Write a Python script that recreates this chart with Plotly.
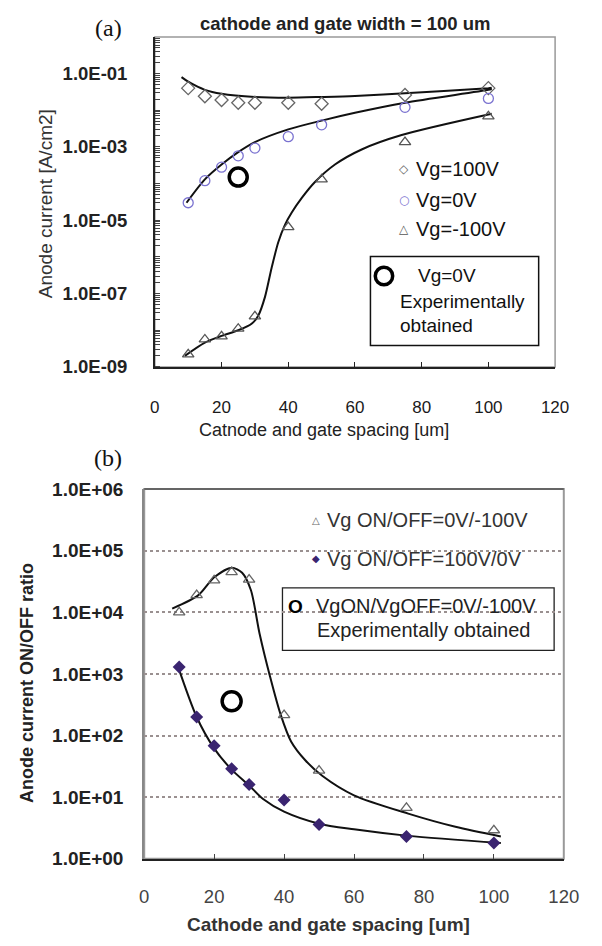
import plotly.graph_objects as go

# ---------------- data: panel (a) ----------------
spacing = [10, 15, 20, 25, 30, 40, 50, 75, 100]
cur_vg100 = [4.0e-2, 2.4e-2, 1.9e-2, 1.6e-2, 1.6e-2, 1.6e-2, 1.5e-2, 2.6e-2, 4.0e-2]
cur_vg0 = [3.0e-5, 1.2e-4, 2.8e-4, 5.7e-4, 9.3e-4, 1.9e-3, 4.0e-3, 1.2e-2, 2.1e-2]
cur_vgm100 = [2.2e-9, 5.6e-9, 6.8e-9, 1.1e-8, 2.4e-8, 6.5e-6, 1.3e-4, 1.35e-3, 6.8e-3]

fit100_x = [8, 10, 15, 20, 30, 40, 50, 60, 75, 100, 101]
fit100_y = [8.0e-2, 6.0e-2, 3.6e-2, 2.8e-2, 2.3e-2, 2.2e-2, 2.3e-2, 2.45e-2, 2.9e-2, 4.0e-2, 4.1e-2]
fit0_x = [9.5, 15, 20, 25, 30, 40, 50, 60, 75, 100, 101]
fit0_y = [3.0e-5, 1.3e-4, 3.3e-4, 7.2e-4, 1.35e-3, 3.0e-3, 5.2e-3, 8.5e-3, 1.6e-2, 3.6e-2, 3.8e-2]
fitm100_x = [9, 15, 20, 25, 29, 31, 33, 35, 37, 39, 41, 44, 48, 54, 62, 74, 101]
fitm100_y = [2.0e-9, 4.6e-9, 7.0e-9, 1.0e-8, 1.5e-8, 2.5e-8, 8.0e-8, 5.0e-7, 2.5e-6, 7.5e-6,
             1.6e-5, 4.0e-5, 1.1e-4, 3.3e-4, 8.5e-4, 2.1e-3, 8.0e-3]
exp_a_x = [25]
exp_a_y = [1.5e-4]

# ---------------- data: panel (b) ----------------
ratio_0_m100 = [1.0e4, 1.9e4, 3.3e4, 4.5e4, 3.4e4, 215, 27, 6.7, 2.9]
ratio_100_0 = [1300, 200, 68, 29, 16, 9, 3.6, 2.3, 1.8]

fitr1_x = [8, 15.5, 20, 25, 28, 30.5, 33, 36, 39, 42, 46, 51, 60, 75.5, 89, 102]
fitr1_y = [1.15e4, 1.9e4, 3.7e4, 5.3e4, 4.4e4, 2.3e4, 4.5e3, 900, 220, 80, 40, 22, 10.7, 5.4, 3.3, 2.3]
fitr2_x = [9.5, 15, 20, 25, 30, 34, 40, 50, 60, 75.5, 102]
fitr2_y = [1400, 200, 62, 28, 15.5, 9.3, 5.8, 3.7, 3.0, 2.35, 1.8]
exp_b_x = [25]
exp_b_y = [360]

xticks = [0, 20, 40, 60, 80, 100, 120]
yticks_a = [1e-9, 1e-7, 1e-5, 1e-3, 1e-1]
yticks_b = [1e0, 1e1, 1e2, 1e3, 1e4, 1e5, 1e6]

W, H = 602, 946
def px(x):
    return x / W
def py(y):
    return 1 - y / H

FONT = "Liberation Sans"
fig = go.Figure()

LINE = dict(color="#111", width=2, shape="spline", smoothing=0.8)
fig.add_trace(go.Scatter(x=fit100_x, y=fit100_y, mode="lines", line=LINE, xaxis="x", yaxis="y", showlegend=False))
fig.add_trace(go.Scatter(x=fit0_x, y=fit0_y, mode="lines", line=LINE, xaxis="x", yaxis="y", showlegend=False))
fig.add_trace(go.Scatter(x=fitm100_x, y=fitm100_y, mode="lines", line=LINE, xaxis="x", yaxis="y", showlegend=False))
fig.add_trace(go.Scatter(x=spacing, y=cur_vg100, mode="markers", marker=dict(symbol="diamond-open", size=10, color="#666", line=dict(width=1.3)), xaxis="x", yaxis="y", showlegend=False))
fig.add_trace(go.Scatter(x=spacing, y=cur_vg0, mode="markers", marker=dict(symbol="circle-open", size=10, color="#7a72d0", line=dict(width=1.3)), xaxis="x", yaxis="y", showlegend=False))
fig.add_trace(go.Scatter(x=spacing, y=cur_vgm100, mode="markers", marker=dict(symbol="triangle-up-open", size=10, color="#555", line=dict(width=1.3)), xaxis="x", yaxis="y", showlegend=False))
fig.add_trace(go.Scatter(x=exp_a_x, y=exp_a_y, mode="markers", marker=dict(symbol="circle-open", size=18, color="#000", line=dict(width=3.5)), xaxis="x", yaxis="y", showlegend=False))

fig.add_trace(go.Scatter(x=fitr1_x, y=fitr1_y, mode="lines", line=LINE, xaxis="x2", yaxis="y2", showlegend=False))
fig.add_trace(go.Scatter(x=fitr2_x, y=fitr2_y, mode="lines", line=LINE, xaxis="x2", yaxis="y2", showlegend=False))
fig.add_trace(go.Scatter(x=spacing, y=ratio_0_m100, mode="markers", marker=dict(symbol="triangle-up-open", size=10, color="#666", line=dict(width=1.3)), xaxis="x2", yaxis="y2", showlegend=False))
fig.add_trace(go.Scatter(x=spacing, y=ratio_100_0, mode="markers", marker=dict(symbol="diamond", size=10, color="#3a2470"), xaxis="x2", yaxis="y2", showlegend=False))
fig.add_trace(go.Scatter(x=exp_b_x, y=exp_b_y, mode="markers", marker=dict(symbol="circle-open", size=19, color="#000", line=dict(width=3.5)), xaxis="x2", yaxis="y2", showlegend=False))

minor_a = [m * 10.0 ** e for e in range(-9, 0) for m in range(1, 10)]

fig.update_layout(
    width=W, height=H, margin=dict(l=0, r=0, t=0, b=0),
    paper_bgcolor="white", plot_bgcolor="white",
    font=dict(family=FONT, color="#222"),
    xaxis=dict(domain=[px(155), px(569)], range=[0, 120], anchor="y", tickvals=xticks,
               showline=True, linecolor="#222", linewidth=1.5, ticks="inside", ticklen=5,
               tickcolor="#222", showgrid=False, zeroline=False,
               tickfont=dict(family=FONT, size=17, color="#1a1a1a"), ticklabelstandoff=24),
    yaxis=dict(domain=[py(365), py(27.5)], type="log", range=[-9, 0], anchor="x",
               tickvals=yticks_a, ticktext=[f"{v:.1E}" for v in yticks_a],
               showline=True, linecolor="#222", linewidth=1.5, ticks="", showgrid=False,
               zeroline=False, tickfont=dict(family=FONT, size=18.5, color="#222", weight="bold"),
               ticklabelstandoff=22,
               minor=dict(tickvals=minor_a, ticks="inside", ticklen=5, tickcolor="#444")),
    xaxis2=dict(domain=[px(144), px(578)], range=[0, 120], anchor="y2", tickvals=xticks,
                showline=True, linecolor="#222", linewidth=1.5, ticks="inside", ticklen=5,
                tickcolor="#444", showgrid=False, zeroline=False,
                tickfont=dict(family=FONT, size=18.5, color="#444"), ticklabelstandoff=20),
    yaxis2=dict(domain=[py(868), py(490)], type="log", range=[0, 6], anchor="x2",
                tickvals=yticks_b, ticktext=[f"{v:.1E}" for v in yticks_b],
                showline=True, linecolor="#888", linewidth=2, ticks="", showgrid=True,
                gridcolor="#9a9090", griddash="dot", gridwidth=1.5, zeroline=False,
                tickfont=dict(family=FONT, size=19, color="#222", weight="bold"),
                ticklabelstandoff=15),
)

shapes = []
shapes.append(dict(type="rect", xref="x domain", yref="y domain", x0=0, x1=1, y0=0, y1=1,
                   line=dict(color="#999", width=1.5), layer="below"))
shapes.append(dict(type="rect", xref="x2 domain", yref="y2 domain", x0=0, x1=1, y0=0, y1=1,
                   line=dict(color="#999", width=2), layer="below"))
shapes.append(dict(type="line", xref="x2 domain", yref="y2 domain", x0=0, x1=1, y0=1, y1=1,
                   line=dict(color="#555", width=1.5), layer="above"))
shapes.append(dict(type="rect", xref="paper", yref="paper", x0=px(378), x1=px(552), y0=py(343), y1=py(252),
                   line=dict(color="#111", width=1.5), fillcolor="white", layer="above"))
shapes.append(dict(type="circle", xref="paper", yref="paper", x0=px(383), x1=px(401), y0=py(281), y1=py(263),
                   line=dict(color="#000", width=3.5), layer="above"))
shapes.append(dict(type="rect", xref="paper", yref="paper", x0=px(282), x1=px(566), y0=py(578), y1=py(503),
                   line=dict(width=0), fillcolor="white", layer="between"))
shapes.append(dict(type="rect", xref="paper", yref="paper", x0=px(287), x1=px(568), y0=py(655), y1=py(591),
                   line=dict(color="#222", width=1.3), fillcolor="white", layer="between"))
fig.update_layout(shapes=shapes)

ann = []
def A(x, y, text, size=16, color="#222", xanchor="left", angle=0, family=FONT, bold=False):
    ann.append(dict(xref="paper", yref="paper", x=px(x), y=py(y), text=(f"<b>{text}</b>" if bold else text),
                    showarrow=False, xanchor=xanchor, yanchor="middle", textangle=angle,
                    font=dict(family=family, size=size, color=color)))

A(107, 18, "(a)", size=24, color="#111", xanchor="center", family="Liberation Serif")
A(107, 458, "(b)", size=24, color="#111", xanchor="center", family="Liberation Serif")
A(352, 14, "cathode and gate width = 100 um", size=18.5, color="#222", xanchor="center", bold=True)
A(42, 198, "Anode current [A/cm2]", size=19, color="#333", xanchor="center", angle=-90)
A(330, 430, "Catnode and gate spacing [um]", size=18, color="#222", xanchor="center")
A(22, 688, "Anode current ON/OFF ratio", size=18, color="#222", xanchor="center", angle=-90, bold=True)
A(335, 935, "Cathode and gate spacing [um]", size=19, color="#333", xanchor="center", bold=True)

A(413, 163, "◇", size=12, color="#666", xanchor="center", family="DejaVu Sans")
A(423, 163, "Vg=100V", size=20, color="#111")
A(413, 194, "○", size=12, color="#7a72d0", xanchor="center", family="DejaVu Sans")
A(423, 194, "Vg=0V", size=20, color="#111")
A(413, 224, "△", size=12, color="#555", xanchor="center", family="DejaVu Sans")
A(423, 224, "Vg=-100V", size=20, color="#111")
A(425, 272, "Vg=0V", size=19, color="#111")
A(407, 298, "Experimentally", size=19, color="#111")
A(407, 323, "obtained", size=19, color="#111")

A(322, 522, "△", size=10, color="#666", xanchor="center", family="DejaVu Sans")
A(331, 522, "Vg ON/OFF=0V/-100V", size=20, color="#333")
A(322, 561, "◆", size=10, color="#3a2470", xanchor="center", family="DejaVu Sans")
A(331, 561, "Vg ON/OFF=100V/0V", size=20, color="#333")
A(300, 610, "O", size=19, color="#000", xanchor="center", bold=True)
A(320, 610, "VgON/VgOFF=0V/-100V", size=20, color="#222")
A(321, 634, "Experimentally obtained", size=20, color="#222")
fig.update_layout(annotations=ann)

post = ("document.documentElement.style.margin='0px';document.body.style.margin='0px';"
        "document.body.style.overflow='hidden';"
        "var gd=document.getElementById('{plot_id}');gd.style.position='fixed';"
        "gd.style.top='0px';gd.style.left='0px';")
fig.write_html("out.html", config={"displayModeBar": False}, post_script=post)
